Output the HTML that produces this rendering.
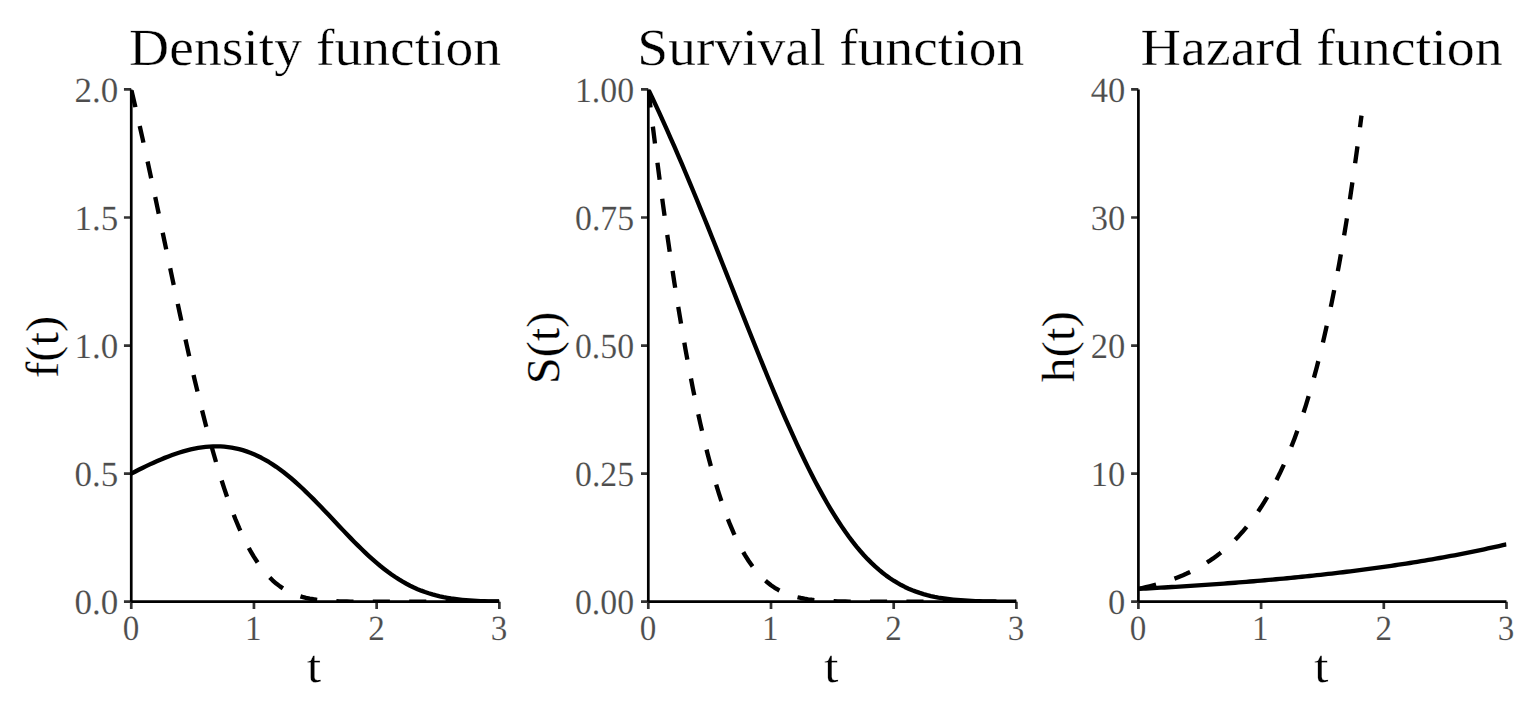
<!DOCTYPE html>
<html><head><meta charset="utf-8"><title>Density, Survival and Hazard functions</title>
<style>
html,body{margin:0;padding:0;background:#fff;}
body{width:1536px;height:720px;overflow:hidden;}
svg{display:block;}
text{font-family:"Liberation Serif",serif;font-size:100px;font-kerning:none;text-rendering:geometricPrecision;stroke:#fff;paint-order:fill stroke;vector-effect:non-scaling-stroke;}
.tt{stroke-width:0.7px;}
.tk{stroke-width:0.4px;}
.ax{stroke-width:0.5px;}
</style></head><body>
<svg width="1536" height="720" viewBox="0 0 1536 720">
<rect width="1536" height="720" fill="#fff"/>
<clipPath id="clip0"><rect x="131.25" y="89.40" width="368.10" height="512.30"/></clipPath>
<g clip-path="url(#clip0)">
<path d="M131.25,473.62 L134.97,471.70 L138.69,469.81 L142.40,467.95 L146.12,466.14 L149.84,464.38 L153.56,462.66 L157.28,461.01 L161.00,459.41 L164.71,457.88 L168.43,456.42 L172.15,455.04 L175.87,453.73 L179.59,452.52 L183.30,451.40 L187.02,450.37 L190.74,449.45 L194.46,448.64 L198.18,447.94 L201.90,447.36 L205.61,446.91 L209.33,446.58 L213.05,446.39 L216.77,446.34 L220.49,446.43 L224.20,446.67 L227.92,447.06 L231.64,447.60 L235.36,448.30 L239.08,449.16 L242.80,450.19 L246.51,451.38 L250.23,452.73 L253.95,454.25 L257.67,455.94 L261.39,457.79 L265.10,459.81 L268.82,461.99 L272.54,464.34 L276.26,466.83 L279.98,469.48 L283.70,472.28 L287.41,475.22 L291.13,478.30 L294.85,481.51 L298.57,484.83 L302.29,488.27 L306.00,491.81 L309.72,495.44 L313.44,499.15 L317.16,502.94 L320.88,506.78 L324.60,510.67 L328.31,514.60 L332.03,518.54 L335.75,522.50 L339.47,526.44 L343.19,530.38 L346.90,534.28 L350.62,538.13 L354.34,541.93 L358.06,545.66 L361.78,549.31 L365.50,552.88 L369.21,556.33 L372.93,559.68 L376.65,562.91 L380.37,566.02 L384.09,568.98 L387.80,571.81 L391.52,574.50 L395.24,577.04 L398.96,579.43 L402.68,581.67 L406.40,583.76 L410.11,585.70 L413.83,587.50 L417.55,589.15 L421.27,590.66 L424.99,592.04 L428.70,593.28 L432.42,594.41 L436.14,595.42 L439.86,596.32 L443.58,597.11 L447.30,597.81 L451.01,598.43 L454.73,598.96 L458.45,599.42 L462.17,599.82 L465.89,600.16 L469.60,600.44 L473.32,600.68 L477.04,600.88 L480.76,601.05 L484.48,601.19 L488.20,601.30 L491.91,601.39 L495.63,601.46 L499.35,601.52" fill="none" stroke="#000" stroke-width="4.35" stroke-linejoin="round"/>
<path d="M131.25,89.40 L134.97,105.15 L138.69,121.33 L142.40,137.89 L146.12,154.77 L149.84,171.94 L153.56,189.32 L157.28,206.88 L161.00,224.54 L164.71,242.26 L168.43,259.97 L172.15,277.61 L175.87,295.13 L179.59,312.47 L183.30,329.57 L187.02,346.37 L190.74,362.83 L194.46,378.90 L198.18,394.52 L201.90,409.66 L205.61,424.27 L209.33,438.32 L213.05,451.78 L216.77,464.62 L220.49,476.82 L224.20,488.37 L227.92,499.25 L231.64,509.46 L235.36,519.00 L239.08,527.87 L242.80,536.08 L246.51,543.64 L250.23,550.57 L253.95,556.89 L257.67,562.63 L261.39,567.80 L265.10,572.45 L268.82,576.60 L272.54,580.28 L276.26,583.52 L279.98,586.37 L283.70,588.85 L287.41,591.00 L291.13,592.84 L294.85,594.42 L298.57,595.76 L302.29,596.89 L306.00,597.83 L309.72,598.61 L313.44,599.25 L317.16,599.78 L320.88,600.20 L324.60,600.54 L328.31,600.81 L332.03,601.03 L335.75,601.20 L339.47,601.32 L343.19,601.42 L346.90,601.50 L350.62,601.55 L354.34,601.60 L358.06,601.63 L361.78,601.65 L365.50,601.66 L369.21,601.68 L372.93,601.68 L376.65,601.69 L380.37,601.69 L384.09,601.70 L387.80,601.70 L391.52,601.70 L395.24,601.70 L398.96,601.70 L402.68,601.70 L406.40,601.70 L410.11,601.70 L413.83,601.70 L417.55,601.70 L421.27,601.70 L424.99,601.70 L428.70,601.70 L432.42,601.70 L436.14,601.70 L439.86,601.70 L443.58,601.70 L447.30,601.70 L451.01,601.70 L454.73,601.70 L458.45,601.70 L462.17,601.70 L465.89,601.70 L469.60,601.70 L473.32,601.70 L477.04,601.70 L480.76,601.70 L484.48,601.70 L488.20,601.70 L491.91,601.70 L495.63,601.70 L499.35,601.70" fill="none" stroke="#000" stroke-width="4.35" stroke-dasharray="17.1 19.3" stroke-dashoffset="-1.1" stroke-linejoin="round"/>
</g>
<path d="M123.95,601.70 H131.25 M123.95,473.62 H131.25 M123.95,345.55 H131.25 M123.95,217.48 H131.25 M123.95,89.40 H131.25 M131.25,601.70 V609.00 M253.95,601.70 V609.00 M376.65,601.70 V609.00 M499.35,601.70 V609.00" stroke="#333" stroke-width="2.7" fill="none"/>
<path d="M131.25,89.40 V601.70 M131.25,601.70 H499.35" fill="none" stroke="#000" stroke-width="2.7" stroke-linecap="butt"/>
<clipPath id="clip1"><rect x="648.30" y="89.40" width="368.10" height="512.30"/></clipPath>
<g clip-path="url(#clip1)">
<path d="M648.30,89.40 L652.02,97.22 L655.74,105.16 L659.45,113.21 L663.17,121.37 L666.89,129.64 L670.61,138.01 L674.33,146.49 L678.05,155.06 L681.76,163.73 L685.48,172.50 L689.20,181.34 L692.92,190.27 L696.64,199.28 L700.35,208.35 L704.07,217.49 L707.79,226.69 L711.51,235.94 L715.23,245.24 L718.95,254.58 L722.66,263.95 L726.38,273.34 L730.10,282.75 L733.82,292.16 L737.54,301.58 L741.25,310.98 L744.97,320.36 L748.69,329.72 L752.41,339.04 L756.13,348.31 L759.85,357.53 L763.56,366.67 L767.28,375.74 L771.00,384.73 L774.72,393.61 L778.44,402.39 L782.15,411.05 L785.87,419.59 L789.59,427.98 L793.31,436.23 L797.03,444.33 L800.75,452.26 L804.46,460.01 L808.18,467.59 L811.90,474.97 L815.62,482.15 L819.34,489.13 L823.05,495.90 L826.77,502.45 L830.49,508.78 L834.21,514.88 L837.93,520.75 L841.65,526.38 L845.36,531.78 L849.08,536.94 L852.80,541.86 L856.52,546.54 L860.24,550.98 L863.95,555.19 L867.67,559.16 L871.39,562.89 L875.11,566.40 L878.83,569.69 L882.55,572.75 L886.26,575.61 L889.98,578.25 L893.70,580.70 L897.42,582.96 L901.14,585.03 L904.85,586.93 L908.57,588.66 L912.29,590.23 L916.01,591.65 L919.73,592.93 L923.45,594.08 L927.16,595.11 L930.88,596.02 L934.60,596.83 L938.32,597.55 L942.04,598.17 L945.75,598.72 L949.47,599.19 L953.19,599.61 L956.91,599.96 L960.63,600.26 L964.35,600.52 L968.06,600.73 L971.78,600.92 L975.50,601.07 L979.22,601.19 L982.94,601.30 L986.65,601.38 L990.37,601.45 L994.09,601.50 L997.81,601.55 L1001.53,601.58 L1005.25,601.61 L1008.96,601.63 L1012.68,601.65 L1016.40,601.66" fill="none" stroke="#000" stroke-width="4.35" stroke-linejoin="round"/>
<path d="M648.30,89.40 L652.02,119.97 L655.74,149.58 L659.45,178.19 L663.17,205.79 L666.89,232.36 L670.61,257.88 L674.33,282.34 L678.05,305.74 L681.76,328.06 L685.48,349.30 L689.20,369.48 L692.92,388.59 L696.64,406.64 L700.35,423.65 L704.07,439.64 L707.79,454.61 L711.51,468.60 L715.23,481.62 L718.95,493.72 L722.66,504.91 L726.38,515.24 L730.10,524.73 L733.82,533.42 L737.54,541.36 L741.25,548.57 L744.97,555.11 L748.69,561.00 L752.41,566.30 L756.13,571.04 L759.85,575.26 L763.56,579.01 L767.28,582.31 L771.00,585.22 L774.72,587.76 L778.44,589.96 L782.15,591.87 L785.87,593.52 L789.59,594.93 L793.31,596.12 L797.03,597.14 L800.75,597.99 L804.46,598.70 L808.18,599.29 L811.90,599.78 L815.62,600.18 L819.34,600.51 L823.05,600.77 L826.77,600.98 L830.49,601.15 L834.21,601.28 L837.93,601.38 L841.65,601.46 L845.36,601.52 L849.08,601.57 L852.80,601.60 L856.52,601.63 L860.24,601.65 L863.95,601.67 L867.67,601.68 L871.39,601.68 L875.11,601.69 L878.83,601.69 L882.55,601.69 L886.26,601.70 L889.98,601.70 L893.70,601.70 L897.42,601.70 L901.14,601.70 L904.85,601.70 L908.57,601.70 L912.29,601.70 L916.01,601.70 L919.73,601.70 L923.45,601.70 L927.16,601.70 L930.88,601.70 L934.60,601.70 L938.32,601.70 L942.04,601.70 L945.75,601.70 L949.47,601.70 L953.19,601.70 L956.91,601.70 L960.63,601.70 L964.35,601.70 L968.06,601.70 L971.78,601.70 L975.50,601.70 L979.22,601.70 L982.94,601.70 L986.65,601.70 L990.37,601.70 L994.09,601.70 L997.81,601.70 L1001.53,601.70 L1005.25,601.70 L1008.96,601.70 L1012.68,601.70 L1016.40,601.70" fill="none" stroke="#000" stroke-width="4.35" stroke-dasharray="17.1 19.3" stroke-dashoffset="-1.1" stroke-linejoin="round"/>
</g>
<path d="M641.00,601.70 H648.30 M641.00,473.62 H648.30 M641.00,345.55 H648.30 M641.00,217.48 H648.30 M641.00,89.40 H648.30 M648.30,601.70 V609.00 M771.00,601.70 V609.00 M893.70,601.70 V609.00 M1016.40,601.70 V609.00" stroke="#333" stroke-width="2.7" fill="none"/>
<path d="M648.30,89.40 V601.70 M648.30,601.70 H1016.40" fill="none" stroke="#000" stroke-width="2.7" stroke-linecap="butt"/>
<clipPath id="clip2"><rect x="1138.40" y="89.40" width="368.10" height="512.30"/></clipPath>
<g clip-path="url(#clip2)">
<path d="M1138.40,588.89 L1142.12,588.70 L1145.84,588.50 L1149.55,588.30 L1153.27,588.09 L1156.99,587.88 L1160.71,587.67 L1164.43,587.46 L1168.15,587.24 L1171.86,587.02 L1175.58,586.80 L1179.30,586.57 L1183.02,586.34 L1186.74,586.10 L1190.45,585.87 L1194.17,585.62 L1197.89,585.38 L1201.61,585.13 L1205.33,584.88 L1209.05,584.62 L1212.76,584.36 L1216.48,584.09 L1220.20,583.83 L1223.92,583.55 L1227.64,583.28 L1231.35,582.99 L1235.07,582.71 L1238.79,582.42 L1242.51,582.12 L1246.23,581.83 L1249.95,581.52 L1253.66,581.21 L1257.38,580.90 L1261.10,580.58 L1264.82,580.26 L1268.54,579.93 L1272.25,579.60 L1275.97,579.26 L1279.69,578.92 L1283.41,578.57 L1287.13,578.22 L1290.85,577.86 L1294.56,577.50 L1298.28,577.13 L1302.00,576.75 L1305.72,576.37 L1309.44,575.99 L1313.15,575.59 L1316.87,575.20 L1320.59,574.79 L1324.31,574.38 L1328.03,573.96 L1331.75,573.54 L1335.46,573.11 L1339.18,572.67 L1342.90,572.23 L1346.62,571.78 L1350.34,571.32 L1354.05,570.86 L1357.77,570.39 L1361.49,569.91 L1365.21,569.43 L1368.93,568.93 L1372.65,568.43 L1376.36,567.92 L1380.08,567.41 L1383.80,566.89 L1387.52,566.35 L1391.24,565.81 L1394.95,565.27 L1398.67,564.71 L1402.39,564.15 L1406.11,563.57 L1409.83,562.99 L1413.55,562.40 L1417.26,561.80 L1420.98,561.19 L1424.70,560.57 L1428.42,559.94 L1432.14,559.31 L1435.85,558.66 L1439.57,558.00 L1443.29,557.33 L1447.01,556.66 L1450.73,555.97 L1454.45,555.27 L1458.16,554.56 L1461.88,553.84 L1465.60,553.11 L1469.32,552.37 L1473.04,551.62 L1476.75,550.85 L1480.47,550.08 L1484.19,549.29 L1487.91,548.49 L1491.63,547.68 L1495.35,546.85 L1499.06,546.01 L1502.78,545.16 L1506.50,544.30" fill="none" stroke="#000" stroke-width="4.35" stroke-linejoin="round"/>
<path d="M1138.40,588.89 L1142.12,588.09 L1145.84,587.24 L1149.55,586.34 L1153.27,585.38 L1156.99,584.36 L1160.71,583.28 L1164.43,582.12 L1168.15,580.90 L1171.86,579.60 L1175.58,578.22 L1179.30,576.75 L1183.02,575.20 L1186.74,573.54 L1190.45,571.78 L1194.17,569.91 L1197.89,567.92 L1201.61,565.81 L1205.33,563.57 L1209.05,561.19 L1212.76,558.66 L1216.48,555.97 L1220.20,553.11 L1223.92,550.08 L1227.64,546.85 L1231.35,543.42 L1235.07,539.78 L1238.79,535.91 L1242.51,531.80 L1246.23,527.44 L1249.95,522.80 L1253.66,517.87 L1257.38,512.63 L1261.10,507.06 L1264.82,501.15 L1268.54,494.87 L1272.25,488.19 L1275.97,481.10 L1279.69,473.57 L1283.41,465.56 L1287.13,457.06 L1290.85,448.02 L1294.56,438.42 L1298.28,428.21 L1302.00,417.38 L1305.72,405.86 L1309.44,393.62 L1313.15,380.62 L1316.87,366.81 L1320.59,352.13 L1324.31,336.54 L1328.03,319.97 L1331.75,302.37 L1335.46,283.67 L1339.18,263.80 L1342.90,242.68 L1346.62,220.25 L1350.34,196.42 L1354.05,171.10 L1357.77,144.19 L1361.49,115.61" fill="none" stroke="#000" stroke-width="4.35" stroke-dasharray="17.1 19.3" stroke-dashoffset="-1.1" stroke-linejoin="round"/>
</g>
<path d="M1131.10,601.70 H1138.40 M1131.10,473.62 H1138.40 M1131.10,345.55 H1138.40 M1131.10,217.48 H1138.40 M1131.10,89.40 H1138.40 M1138.40,601.70 V609.00 M1261.10,601.70 V609.00 M1383.80,601.70 V609.00 M1506.50,601.70 V609.00" stroke="#333" stroke-width="2.7" fill="none"/>
<path d="M1138.40,89.40 V601.70 M1138.40,601.70 H1506.50" fill="none" stroke="#000" stroke-width="2.7" stroke-linecap="butt"/>
<text transform="matrix(0.35052 0 0 0.35336 74.52 614.40)" fill="#4d4d4d" class="tk">0.0</text>
<text transform="matrix(0.35052 0 0 0.35336 74.55 486.32)" fill="#4d4d4d" class="tk">0.5</text>
<text transform="matrix(0.35052 0 0 0.35336 74.52 358.25)" fill="#4d4d4d" class="tk">1.0</text>
<text transform="matrix(0.35052 0 0 0.35336 74.55 230.18)" fill="#4d4d4d" class="tk">1.5</text>
<text transform="matrix(0.35052 0 0 0.35336 74.52 102.10)" fill="#4d4d4d" class="tk">2.0</text>
<text transform="matrix(0.33785 0 0 0.35336 574.96 614.40)" fill="#4d4d4d" class="tk">0.00</text>
<text transform="matrix(0.33785 0 0 0.35336 575.00 486.32)" fill="#4d4d4d" class="tk">0.25</text>
<text transform="matrix(0.33785 0 0 0.35336 574.96 358.25)" fill="#4d4d4d" class="tk">0.50</text>
<text transform="matrix(0.33785 0 0 0.35336 575.00 230.18)" fill="#4d4d4d" class="tk">0.75</text>
<text transform="matrix(0.33785 0 0 0.35336 574.96 102.10)" fill="#4d4d4d" class="tk">1.00</text>
<text transform="matrix(0.34556 0 0 0.35336 1108.04 614.40)" fill="#4d4d4d" class="tk">0</text>
<text transform="matrix(0.34556 0 0 0.35336 1090.76 486.32)" fill="#4d4d4d" class="tk">10</text>
<text transform="matrix(0.34556 0 0 0.35336 1090.76 358.25)" fill="#4d4d4d" class="tk">20</text>
<text transform="matrix(0.34556 0 0 0.35336 1090.76 230.18)" fill="#4d4d4d" class="tk">30</text>
<text transform="matrix(0.34556 0 0 0.35336 1090.76 102.10)" fill="#4d4d4d" class="tk">40</text>
<text transform="matrix(0.33100 0 0 0.35336 122.67 640.00)" fill="#4d4d4d" class="tk">0</text>
<text transform="matrix(0.33100 0 0 0.35336 244.91 640.00)" fill="#4d4d4d" class="tk">1</text>
<text transform="matrix(0.33100 0 0 0.35336 368.26 640.00)" fill="#4d4d4d" class="tk">2</text>
<text transform="matrix(0.33100 0 0 0.35336 490.63 640.00)" fill="#4d4d4d" class="tk">3</text>
<text transform="matrix(0.33100 0 0 0.35336 639.73 640.00)" fill="#4d4d4d" class="tk">0</text>
<text transform="matrix(0.33100 0 0 0.35336 761.96 640.00)" fill="#4d4d4d" class="tk">1</text>
<text transform="matrix(0.33100 0 0 0.35336 885.31 640.00)" fill="#4d4d4d" class="tk">2</text>
<text transform="matrix(0.33100 0 0 0.35336 1007.68 640.00)" fill="#4d4d4d" class="tk">3</text>
<text transform="matrix(0.33100 0 0 0.35336 1129.83 640.00)" fill="#4d4d4d" class="tk">0</text>
<text transform="matrix(0.33100 0 0 0.35336 1252.06 640.00)" fill="#4d4d4d" class="tk">1</text>
<text transform="matrix(0.33100 0 0 0.35336 1375.41 640.00)" fill="#4d4d4d" class="tk">2</text>
<text transform="matrix(0.33100 0 0 0.35336 1497.78 640.00)" fill="#4d4d4d" class="tk">3</text>
<text transform="matrix(0.50914 0 0 0.46537 307.10 682.00)" fill="#000" class="ax">t</text>
<text transform="matrix(0.50914 0 0 0.46537 824.15 682.00)" fill="#000" class="ax">t</text>
<text transform="matrix(0.50914 0 0 0.46537 1314.25 682.00)" fill="#000" class="ax">t</text>
<text transform="matrix(0 -0.48580 0.46480 0 58.25 377.89)" fill="#000" class="ax">f(t)</text>
<text transform="matrix(0 -0.48375 0.46984 0 558.60 384.14)" fill="#000" class="ax">S(t)</text>
<text transform="matrix(0 -0.49276 0.46552 0 1074.20 382.18)" fill="#000" class="ax">h(t)</text>
<text transform="matrix(0.55584 0 0 0.52230 129.10 65.00)" fill="#000" class="tt">Density function</text>
<text transform="matrix(0.55493 0 0 0.52230 637.29 65.00)" fill="#000" class="tt">Survival function</text>
<text transform="matrix(0.55982 0 0 0.52230 1140.59 65.00)" fill="#000" class="tt">Hazard function</text>
</svg>
</body></html>
